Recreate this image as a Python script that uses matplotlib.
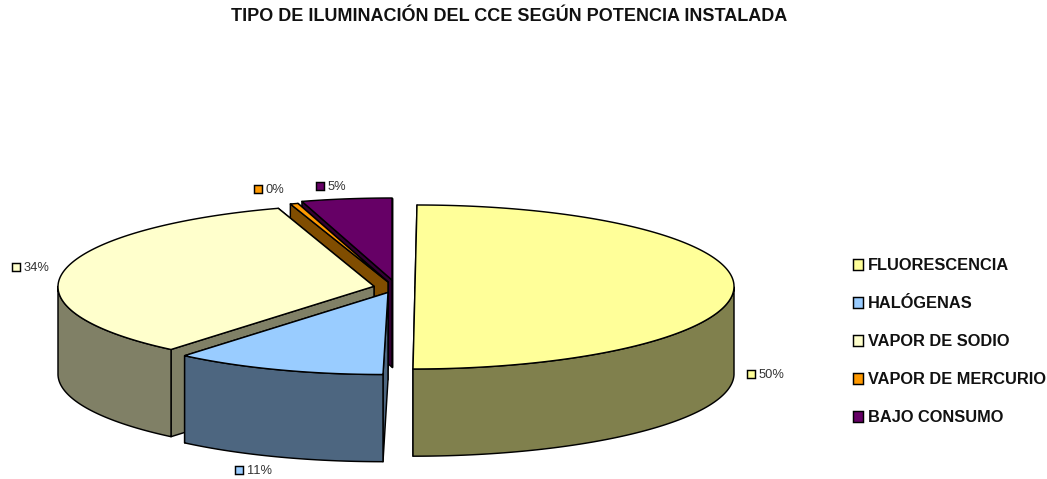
import numpy as np
import matplotlib
matplotlib.use("Agg")
import matplotlib.pyplot as plt
from matplotlib.patches import Rectangle, Patch

plt.rcParams['font.family'] = ['Liberation Sans', 'DejaVu Sans']

# --- data ---
title = "TIPO DE ILUMINACIÓN DEL CCE SEGÚN POTENCIA INSTALADA"
categories = ["FLUORESCENCIA", "HALÓGENAS", "VAPOR DE SODIO", "VAPOR DE MERCURIO", "BAJO CONSUMO"]
values = [50, 11, 34, 0.4, 4.6]
pct_labels = ["50%", "11%", "34%", "0%", "5%"]

# --- style ---
top_colors = ["#FFFF99", "#99CCFF", "#FFFFCC", "#FF9900", "#660066"]
wall_colors = ["#80804D", "#4D6680", "#808066", "#804D00", "#330033"]
apex = [(415, 287), (388, 292.5), (374, 286.3), (388, 282), (392, 280)]
shear = [2, 5, 2, 0, 0]
rx = [319, 313, 316, 316, 316]
ry = 82
depth = 87.2
label_swatch = [(747, 370), (235, 466), (12, 263), (254, 185), (316, 182)]
draw_order = [4, 3, 2, 1, 0]
LW = 1.05

fig = plt.figure(figsize=(10.47, 4.79), dpi=100)
ax = fig.add_axes([0, 0, 1, 1])
ax.set_xlim(0, 1047)
ax.set_ylim(479, 0)
ax.axis("off")

frac = np.array(values, float) / np.sum(values)
edges = np.concatenate([[0], np.cumsum(frac)]) * 2 * np.pi


def rim(i, t):
    cx, cy = apex[i]
    return cx + rx[i] * np.sin(t) + shear[i] * np.cos(t), cy - ry * np.cos(t)


def poly(xs, ys, color):
    ax.fill(xs, ys, facecolor=color, edgecolor="black", linewidth=LW, joinstyle="round")


for i in draw_order:
    t0, t1 = edges[i], edges[i + 1]
    cx, cy = apex[i]
    # cut walls (far one first)
    for t in (t1, t0):
        x, y = rim(i, t)
        poly([cx, x, x, cx], [cy, y, y + depth, cy + depth], wall_colors[i])
    # outer wall, only the part facing the viewer
    a, b = max(t0, np.pi / 2), min(t1, 3 * np.pi / 2)
    if b > a:
        t = np.linspace(a, b, 200)
        x, y = rim(i, t)
        poly(np.r_[x, x[::-1]], np.r_[y, (y + depth)[::-1]], wall_colors[i])
    # top face
    t = np.linspace(t0, t1, 300)
    x, y = rim(i, t)
    poly(np.r_[cx, x], np.r_[cy, y], top_colors[i])

# percentage labels
for i, lab in enumerate(pct_labels):
    sx, sy = label_swatch[i]
    ax.add_patch(Rectangle((sx, sy), 8, 8, facecolor=top_colors[i], edgecolor="black", linewidth=LW))
    ax.text(sx + 11.5, sy + 4.8, lab, fontsize=9.3, color="#333333", ha="left", va="center")

ax.text(509, 16.8, title, fontsize=13, fontweight="bold", ha="center", va="center", color="#111111")

handles = [Patch(facecolor=c, edgecolor="black", linewidth=LW) for c in top_colors]
ax.legend(handles, categories, loc="upper left", bbox_to_anchor=(853, 258),
          bbox_transform=ax.transData, frameon=False, borderpad=0, borderaxespad=0,
          prop={"size": 11.75, "weight": "bold"}, labelspacing=1.41, handlelength=0.62,
          handleheight=0.62, handletextpad=0.3, labelcolor="#111111")

fig.savefig("out.png", dpi=100)
